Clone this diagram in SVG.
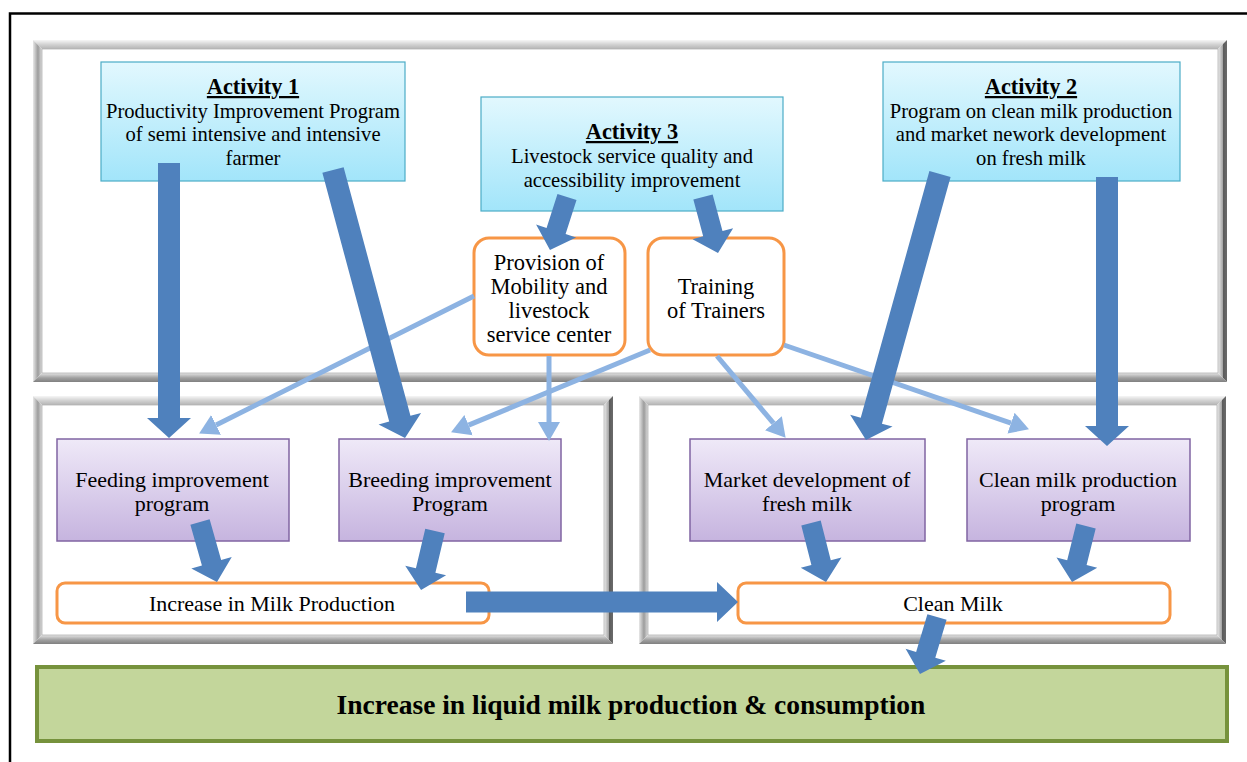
<svg xmlns="http://www.w3.org/2000/svg" width="1247" height="762" viewBox="0 0 1247 762">
  <style>
    .t { font-family: "Liberation Serif", "Times New Roman", serif; font-size: 20.6px; fill: #000; text-anchor: middle; }
    .title { font-weight: bold; text-decoration: underline; font-size: 22.3px; }
    .big { font-size: 22.5px; }
    .mid { font-size: 22px; }
    .goal { font-family: "Liberation Serif", "Times New Roman", serif; font-size: 27.5px; font-weight: bold; text-anchor: middle; fill: #000; }
    .act { fill: url(#gAct); stroke: #4bacc6; stroke-width: 1.2; }
    .prog { fill: url(#gProg); stroke: #8064a2; stroke-width: 1.5; }
    .res { fill: #ffffff; stroke: #f79646; stroke-width: 3; }
    .thick { fill: #4f81bd; }
    .thin { stroke: #8db3e2; stroke-width: 5; fill: none; marker-end: url(#head); }
    .inner { fill: #ffffff; stroke: #b5b5b5; stroke-width: 0.8; }
  </style>
  <defs>
    <linearGradient id="gAct" x1="0" y1="0" x2="0" y2="1">
      <stop offset="0" stop-color="#e2f8fe"/>
      <stop offset="1" stop-color="#a2e5fa"/>
    </linearGradient>
    <linearGradient id="gProg" x1="0" y1="0" x2="0" y2="1">
      <stop offset="0" stop-color="#efe9f8"/>
      <stop offset="1" stop-color="#c6b4df"/>
    </linearGradient>
    <linearGradient id="gTop" x1="0" y1="0" x2="0" y2="1">
      <stop offset="0" stop-color="#f6f6f6"/>
      <stop offset="0.5" stop-color="#d2d2d2"/>
      <stop offset="1" stop-color="#b4b4b4"/>
    </linearGradient>
    <linearGradient id="gLeft" x1="0" y1="0" x2="1" y2="0">
      <stop offset="0" stop-color="#e8e8e8"/>
      <stop offset="0.55" stop-color="#9c9c9c"/>
      <stop offset="1" stop-color="#dcdcdc"/>
    </linearGradient>
    <linearGradient id="gRight" x1="0" y1="0" x2="1" y2="0">
      <stop offset="0" stop-color="#eeeeee"/>
      <stop offset="0.5" stop-color="#a8a8a8"/>
      <stop offset="0.6" stop-color="#5c5c5c"/>
      <stop offset="1" stop-color="#6a6a6a"/>
    </linearGradient>
    <linearGradient id="gBot" x1="0" y1="0" x2="0" y2="1">
      <stop offset="0" stop-color="#e4e4e4"/>
      <stop offset="0.55" stop-color="#a0a0a0"/>
      <stop offset="1" stop-color="#808080"/>
    </linearGradient>
    <marker id="head" markerUnits="userSpaceOnUse" markerWidth="22" markerHeight="24" refX="0" refY="12" orient="auto">
      <path d="M0,1 L19,12 L0,23 Z" fill="#8db3e2"/>
    </marker>
  </defs>

  <!-- page frame -->
  <path d="M10,762 V13.5 H1247" fill="none" stroke="#000" stroke-width="2.5"/>

  <!-- bevelled panels -->
  <g id="panel-top">
    <polygon points="33,40 1227,40 1218,49 42,49" fill="url(#gTop)"/>
    <polygon points="33,40 42,49 42,373 33,382" fill="url(#gLeft)"/>
    <polygon points="1227,40 1227,382 1218,373 1218,49" fill="url(#gRight)"/>
    <polygon points="33,382 1227,382 1218,373 42,373" fill="url(#gBot)"/>
    <rect class="inner" x="42" y="49" width="1176" height="324"/>
  </g>
  <g id="panel-left">
    <polygon points="33,396 613,396 604,405 42,405" fill="url(#gTop)"/>
    <polygon points="33,396 42,405 42,635 33,644" fill="url(#gLeft)"/>
    <polygon points="613,396 613,644 604,635 604,405" fill="url(#gRight)"/>
    <polygon points="33,644 613,644 604,635 42,635" fill="url(#gBot)"/>
    <rect class="inner" x="42" y="405" width="562" height="230"/>
  </g>
  <g id="panel-right">
    <polygon points="639,396 1226,396 1217,405 648,405" fill="url(#gTop)"/>
    <polygon points="639,396 648,405 648,635 639,644" fill="url(#gLeft)"/>
    <polygon points="1226,396 1226,644 1217,635 1217,405" fill="url(#gRight)"/>
    <polygon points="639,644 1226,644 1217,635 648,635" fill="url(#gBot)"/>
    <rect class="inner" x="648" y="405" width="569" height="230"/>
  </g>

  <!-- activities -->
  <g id="activity-1">
    <rect class="act" x="101" y="62" width="304" height="119"/>
    <text class="t title" x="253" y="94">Activity 1</text>
    <text class="t" x="253" y="118">Productivity Improvement Program</text>
    <text class="t" x="253" y="141">of semi intensive and intensive</text>
    <text class="t" x="253" y="165">farmer</text>
  </g>
  <g id="activity-3">
    <rect class="act" x="481" y="97" width="302" height="114"/>
    <text class="t title" x="632" y="139">Activity 3</text>
    <text class="t" x="632" y="163">Livestock service quality and</text>
    <text class="t" x="632" y="187">accessibility improvement</text>
  </g>
  <g id="activity-2">
    <rect class="act" x="883" y="62" width="297" height="119"/>
    <text class="t title" x="1031" y="94">Activity 2</text>
    <text class="t" x="1031" y="118">Program on clean milk production</text>
    <text class="t" x="1031" y="141">and market nework development</text>
    <text class="t" x="1031" y="165">on fresh milk</text>
  </g>

  <!-- service components -->
  <g id="provision">
    <rect class="res" x="474" y="238" width="151" height="117" rx="15"/>
    <text class="t big" x="549" y="270">Provision of</text>
    <text class="t big" x="549" y="294">Mobility and</text>
    <text class="t big" x="549" y="318">livestock</text>
    <text class="t big" x="549" y="342">service center</text>
  </g>
  <g id="training">
    <rect class="res" x="648" y="238" width="136" height="117" rx="15"/>
    <text class="t big" x="716" y="294">Training</text>
    <text class="t big" x="716" y="318">of Trainers</text>
  </g>

  <!-- programs -->
  <g id="feeding">
    <rect class="prog" x="57" y="439" width="232" height="102"/>
    <text class="t mid" x="172" y="487">Feeding improvement</text>
    <text class="t mid" x="172" y="511">program</text>
  </g>
  <g id="breeding">
    <rect class="prog" x="339" y="439" width="222" height="102"/>
    <text class="t mid" x="450" y="487">Breeding improvement</text>
    <text class="t mid" x="450" y="511">Program</text>
  </g>
  <g id="market">
    <rect class="prog" x="690" y="439" width="235" height="102"/>
    <text class="t mid" x="807" y="487">Market development of</text>
    <text class="t mid" x="807" y="511">fresh milk</text>
  </g>
  <g id="clean-program">
    <rect class="prog" x="967" y="439" width="223" height="102"/>
    <text class="t mid" x="1078" y="487">Clean milk production</text>
    <text class="t mid" x="1078" y="511">program</text>
  </g>

  <!-- outcomes -->
  <g id="milk-production">
    <rect class="res" x="57" y="583" width="432" height="40" rx="8"/>
    <text class="t mid" x="272" y="611">Increase in Milk Production</text>
  </g>
  <g id="clean-milk">
    <rect class="res" x="738" y="583" width="432" height="40" rx="8"/>
    <text class="t mid" x="953" y="611">Clean Milk</text>
  </g>
  <g id="goal">
    <rect x="37" y="667" width="1190" height="74" fill="#c3d69b" stroke="#76923c" stroke-width="4"/>
    <text class="goal" x="631" y="714">Increase in liquid milk production &amp; consumption</text>
  </g>

  <!-- connectors -->
  <g id="connectors">
    <line class="thin" x1="474" y1="296" x2="216.1" y2="424.9"/>
    <line class="thin" x1="549" y1="356" x2="549" y2="422"/>
    <line class="thin" x1="650" y1="350" x2="468.6" y2="425.1"/>
    <line class="thin" x1="717" y1="356" x2="773.4" y2="423.2"/>
    <line class="thin" x1="784" y1="345" x2="1011" y2="423.1"/>

    <polygon class="thick" transform="translate(169,163) rotate(90)" points="0,-11 255,-11 255,-22 275,0 255,22 255,11 0,11"/>
    <polygon class="thick" transform="translate(333,170) rotate(74.96)" points="0,-11 257.5,-11 257.5,-22 277.5,0 257.5,22 257.5,11 0,11"/>
    <polygon class="thick" transform="translate(567,197) rotate(107.8)" points="0,-10 35.7,-10 35.7,-21 55.7,0 35.7,21 35.7,10 0,10"/>
    <polygon class="thick" transform="translate(703,197) rotate(75)" points="0,-10 38,-10 38,-21 58,0 38,21 38,10 0,10"/>
    <polygon class="thick" transform="translate(940,174) rotate(105.55)" points="0,-11 256.1,-11 256.1,-22 276.1,0 256.1,22 256.1,11 0,11"/>
    <polygon class="thick" transform="translate(1107,177) rotate(90)" points="0,-11 249,-11 249,-22 269,0 249,22 249,11 0,11"/>
    <polygon class="thick" transform="translate(200,522) rotate(74.2)" points="0,-10 42.4,-10 42.4,-21 62.4,0 42.4,21 42.4,10 0,10"/>
    <polygon class="thick" transform="translate(435,531) rotate(103.3)" points="0,-10 40.6,-10 40.6,-21 60.6,0 40.6,21 40.6,10 0,10"/>
    <polygon class="thick" transform="translate(811,523) rotate(75.7)" points="0,-10 40.9,-10 40.9,-21 60.9,0 40.9,21 40.9,10 0,10"/>
    <polygon class="thick" transform="translate(1086,526) rotate(104)" points="0,-10 37.7,-10 37.7,-21 57.7,0 37.7,21 37.7,10 0,10"/>
    <polygon class="thick" transform="translate(466,602) rotate(0)" points="0,-10.5 251,-10.5 251,-20 272,0 251,20 251,10.5 0,10.5"/>
    <polygon class="thick" transform="translate(937,617) rotate(106.6)" points="0,-10 39.5,-10 39.5,-21 59.5,0 39.5,21 39.5,10 0,10"/>
  </g>
</svg>
